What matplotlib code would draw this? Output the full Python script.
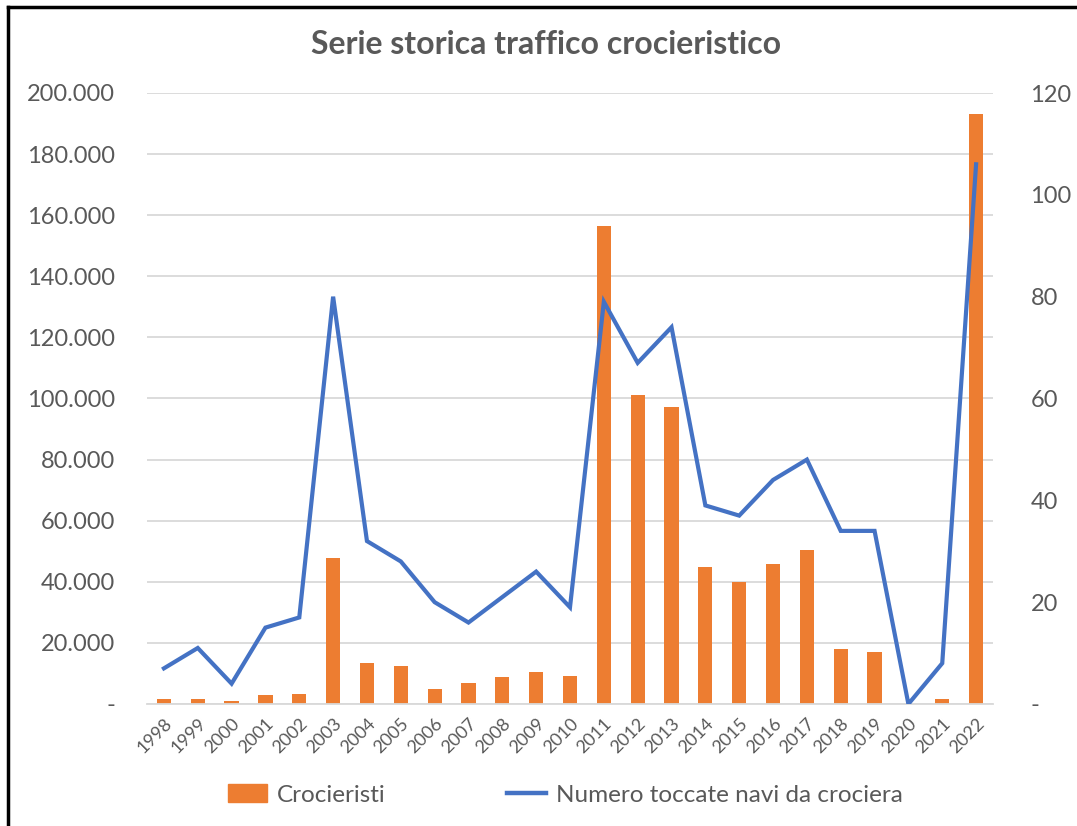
import numpy as np
import matplotlib.pyplot as plt
from matplotlib.lines import Line2D
from matplotlib.patches import Patch
from matplotlib.ticker import FuncFormatter

# dati
anni = [str(a) for a in range(1998, 2023)]
crocieristi = [1800, 1500, 900, 2900, 3200, 47800, 13500, 12300, 4800, 6900,
               8900, 10500, 9300, 156400, 101100, 97200, 44800, 40000, 45700,
               50300, 18100, 16900, 0, 1600, 193000]
toccate = [7, 11, 4, 15, 17, 80, 32, 28, 20, 16, 21, 26, 19, 79, 67, 74,
           39, 37, 44, 48, 34, 34, 0, 8, 106]

titolo = "Serie storica traffico crocieristico"
etichette = ["Crocieristi", "Numero toccate navi da crociera"]

ARANCIO = "#ED7D31"
BLU = "#4472C4"
GRIGIO = "#595959"

plt.rcParams['font.family'] = ['Lato', 'DejaVu Sans']

fig = plt.figure(figsize=(10.77, 8.26), dpi=100)
ax = fig.add_axes([147/1077, 1-704/826, (993-147)/1077, (704-93)/826])
ax2 = ax.twinx()

x = np.arange(len(anni))
ax.bar(x, crocieristi, width=0.42, color=ARANCIO, zorder=2)
ax2.plot(x, toccate, color=BLU, lw=3.0, solid_joinstyle='miter', zorder=3)

ax.set_xlim(-0.5, len(anni)-0.5)
ax.set_ylim(0, 200000)
ax2.set_ylim(0, 120)
ax.set_yticks(np.arange(0, 200001, 20000))
ax2.set_yticks(np.arange(0, 121, 20))


def punti(v, pos):
    if v == 0:
        return "-"
    return f"{int(v):,}".replace(",", ".")


def zero_trattino(v, pos):
    return "-" if v == 0 else f"{int(v)}"


ax.yaxis.set_major_formatter(FuncFormatter(punti))
ax2.yaxis.set_major_formatter(FuncFormatter(zero_trattino))

ax.grid(axis='y', color="#D9D9D9", lw=1.3, zorder=0)
ax.set_axisbelow(True)
for a in (ax, ax2):
    for s in a.spines.values():
        s.set_visible(False)
    a.tick_params(length=0, colors=GRIGIO, labelsize=17)
ax.spines['bottom'].set_visible(True)
ax.spines['bottom'].set_color("#D9D9D9")
ax.spines['bottom'].set_linewidth(1.3)
ax.tick_params(axis='y', pad=23)
ax2.tick_params(axis='y', pad=27)

ax.set_xticks(x)
ax.set_xticklabels(anni, rotation=45, ha='right', rotation_mode='anchor',
                   fontsize=13)
ax.tick_params(axis='x', pad=8)

fig.text(0.507, 1-45/826, titolo, ha='center', va='center', fontsize=23,
         fontweight='bold', color=GRIGIO)

maniglie = [Patch(color=ARANCIO), Line2D([0], [0], color=BLU, lw=3.2)]
fig.legend(maniglie, etichette, loc='center', bbox_to_anchor=(0.525, 1-795/826),
           ncol=2, frameon=False, fontsize=17.5, labelcolor=GRIGIO,
           handlelength=1.6, handletextpad=0.4, columnspacing=5.0)

# bordo della cornice
fig.add_artist(Line2D([8/1077, 8/1077], [0, 1-7/826], color='black', lw=2.5))
fig.add_artist(Line2D([8/1077, 1], [1-7/826, 1-7/826], color='black', lw=2.5))

fig.savefig("out.png", dpi=100)
